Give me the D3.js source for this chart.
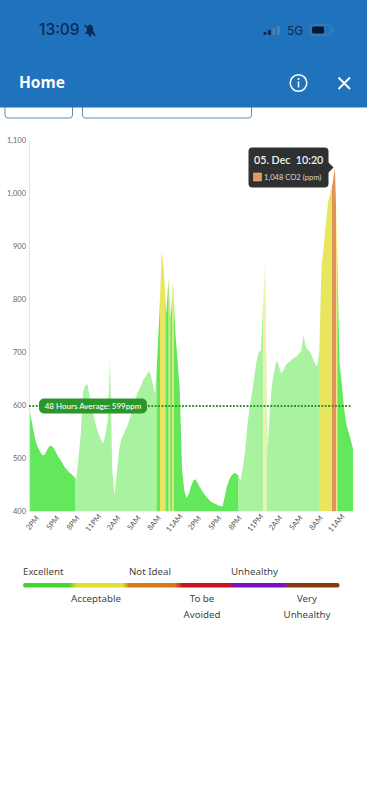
<!DOCTYPE html>
<html><head><meta charset="utf-8">
<script src="https://cdn.jsdelivr.net/npm/d3@7/dist/d3.min.js"></script>
<style>html,body{margin:0;padding:0;background:#fff;overflow:hidden}svg{display:block}text{font-family:Lato,"Open Sans",sans-serif}</style>
</head><body><svg id="c" width="367" height="800"></svg>
<script>
// CO2 readings, one every 20 minutes across 48 hours
const co2 = [597,575,552,532,520,512,506,507,516,523,524,519,511,503,497,490,483,478,473,470,465,462,
500,545,625,638,640,615,592,575,558,545,535,528,545,572,685,480,431,470,515,535,545,555,565,578,590,605,622,630,640,650,655,664,660,640,622,
690,775,892,850,772,838,765,835,740,685,630,480,440,425,433,447,458,461,453,445,438,432,427,422,418,416,414,412,410,410,428,448,460,468,472,472,468,
458,482,512,560,595,620,650,680,700,703,790,869,510,590,640,665,685,675,660,665,675,680,682,688,690,692,698,702,733,710,705,700,690,680,673,
700,860,900,945,985,1000,1020,1048,890,680,640,595,565,550,535,518];
const stepHours = 1/3;
// Colour zones along the time axis (start hour of each zone)
const zoneStarts = [0,6.89,18.89,19.41,20.22,20.7,20.93,21.22,21.45,31.04,34.67,35.19,42.96,44.89,45.48,45.67];
const zoneEnd = 48;
const zoneColors = ["#63e85c","#a9f3a0","#63e85c","#e8e65e","#63e85c","#e8e65e","#63e85c","#e8e65e","#63e85c","#a9f3a0","#f3f0a6","#a9f3a0","#e8e65e","#e2935a","#efe98a","#63e85c"];
const xTickHours = [0,3,6,9,12,15,18,21,24,27,30,33,36,39,42,45];
const xTickLabels = ["2PM","5PM","8PM","11PM","2AM","5AM","8AM","11AM","2PM","5PM","8PM","11PM","2AM","5AM","8AM","11AM"];
const yTicks = [400,500,600,700,800,900,1000,1100];
const average = 599;
const legendTop = [["Excellent",23,575,"start"],["Not Ideal",129,575,"start"],["Unhealthy",231,575,"start"]];
const legendBottom = [["Acceptable",96,602],["To be",202,602],["Avoided",202,618],["Very",307,602],["Unhealthy",307,618]];
const legendStops = [[0,"#3ed62e"],[.145,"#45d82e"],[.17,"#dfe02f"],[.315,"#dfe02f"],[.335,"#d9791c"],[.48,"#d9761a"],[.505,"#cc1221"],[.65,"#cc1221"],[.67,"#7c10c8"],[.82,"#7c10c8"],[.845,"#8b3a10"],[1,"#8b3a10"]];

const svg = d3.select("#c");
const x = d3.scaleLinear().domain([0,48]).range([29,353]);
const y = d3.scaleLinear().domain([400,1100]).range([511.5,140]);
const defs = svg.append("defs");

// cut-off buttons behind the header
svg.selectAll("rect.btn").data([[5,67.5],[82.5,169]]).join("rect")
  .attr("x",d=>d[0]).attr("y",90).attr("width",d=>d[1]).attr("height",28).attr("rx",3)
  .attr("fill","#fff").attr("stroke","#5f8fb5").attr("stroke-width",1);
svg.append("rect").attr("width",367).attr("height",107.5).attr("fill","#1f73bc");

// status bar
svg.append("text").attr("x",39).attr("y",35).attr("font-size",15.5).attr("font-weight",500).attr("fill","#0c2a55").attr("style","font-family:Inter").text("13:09");
const bell = svg.append("g").attr("transform","translate(90,30)").attr("fill","#0c2a55");
bell.append("path").attr("d","M-5,4 Q-3,2 -3,-1 Q-3,-5 0,-5.5 Q3,-5 3,-1 Q3,2 5,4 Z");
bell.append("circle").attr("cy",5).attr("r",1.5);
bell.append("line").attr("x1",-5.5).attr("y1",-5).attr("x2",5.5).attr("y2",6).attr("stroke","#0c2a55").attr("stroke-width",1.3);
svg.selectAll("rect.sig").data([[263.5,3,"#0c2a55"],[268,5,"#0c2a55"],[272.5,7,"#4d80ae"],[277,9,"#4d80ae"]]).join("rect")
  .attr("x",d=>d[0]).attr("y",d=>35-d[1]).attr("width",3).attr("height",d=>d[1]).attr("rx",.6).attr("fill",d=>d[2]);
svg.append("text").attr("x",287).attr("y",35).attr("font-size",12).attr("fill","#0c2a55").attr("style","font-family:Inter").text("5G");
svg.append("rect").attr("x",310.5).attr("y",25).attr("width",21).attr("height",10).attr("rx",3).attr("fill","none").attr("stroke","#4d80ae");
svg.append("rect").attr("x",312).attr("y",26.5).attr("width",12).attr("height",7).attr("rx",1.8).attr("fill","#07172e");
svg.append("rect").attr("x",332.5).attr("y",28.5).attr("width",1.2).attr("height",3).attr("fill","#4d80ae");

// title bar
svg.append("text").attr("x",19).attr("y",88).attr("font-size",15.5).attr("font-weight",700).attr("fill","#fff").attr("style","font-family:'Open Sans'").text("Home");
svg.append("circle").attr("cx",298.5).attr("cy",83).attr("r",8.3).attr("fill","none").attr("stroke","#fff").attr("stroke-width",1.5);
svg.append("circle").attr("cx",298.5).attr("cy",79).attr("r",1).attr("fill","#fff");
svg.append("line").attr("x1",298.5).attr("x2",298.5).attr("y1",81.5).attr("y2",87.5).attr("stroke","#fff").attr("stroke-width",1.5);
svg.append("path").attr("d","M338.5,77.5 L350,89 M350,77.5 L338.5,89").attr("stroke","#fff").attr("stroke-width",1.8).attr("fill","none");

// plot area clipped to the data silhouette
const area = d3.area().x((d,i)=>x(i*stepHours)).y0(y(400)).y1(d=>y(d));
defs.append("clipPath").attr("id","sil").append("path").attr("d",area(co2));
const zones = zoneStarts.map((s,i)=>({s,e:i+1<zoneStarts.length?zoneStarts[i+1]:zoneEnd,c:zoneColors[i]}));
svg.append("g").attr("clip-path","url(#sil)").selectAll("rect").data(zones).join("rect")
  .attr("x",d=>x(d.s)).attr("width",d=>x(d.e)-x(d.s)).attr("y",y(1100)).attr("height",y(400)-y(1100)).attr("fill",d=>d.c);

// axes
const gy = svg.append("g").attr("transform",`translate(${x(0)},0)`).call(d3.axisLeft(y).tickValues(yTicks).tickSize(0).tickPadding(3).tickFormat(d3.format(",")));
gy.select(".domain").attr("stroke","#e4e4e4").attr("stroke-width",1.2);
gy.selectAll("text").attr("font-size",7.5).attr("fill","#666").style("font-family","Lato");
const gx = svg.append("g").attr("transform",`translate(0,${y(400)})`).call(d3.axisBottom(x).tickValues(xTickHours).tickSize(0).tickFormat((d,i)=>xTickLabels[i]));
gx.select(".domain").remove();
gx.selectAll("text").attr("font-size",7.5).attr("fill","#555").style("font-family","Lato")
  .attr("text-anchor","middle").attr("dy",0).attr("y",0).attr("transform","translate(5,13) rotate(-50)");

// average line + label
svg.append("line").attr("x1",x(0)).attr("x2",352).attr("y1",y(average)).attr("y2",y(average)).attr("stroke","#2b8f2b").attr("stroke-width",2).attr("stroke-dasharray","1.8 1.6");
svg.append("rect").attr("x",39).attr("y",398.5).attr("width",108).attr("height",15).attr("rx",5).attr("fill","#2c962c");
svg.append("text").attr("x",93).attr("y",409).attr("text-anchor","middle").attr("font-size",8).attr("font-weight",500).attr("fill","#fff").text("48 Hours Average: "+average+"ppm");

// tooltip
const tip = svg.append("g");
tip.append("rect").attr("x",248.5).attr("y",147.5).attr("width",80).attr("height",40).attr("rx",4).attr("fill","#2f3030");
tip.append("path").attr("d","M328,162 L333.5,167.5 L328,173 Z").attr("fill","#2f3030");
tip.append("text").attr("x",254).attr("y",163.5).attr("font-size",10.7).attr("font-weight",600).attr("fill","#f2f2f2").attr("xml:space","preserve").text("05. Dec  10:20");
tip.append("rect").attr("x",253.5).attr("y",173).attr("width",8).attr("height",8).attr("fill","#e5995c").attr("stroke","#c9c9c9").attr("stroke-width",.5);
tip.append("text").attr("x",264).attr("y",179.5).attr("font-size",7.6).attr("fill","#d8d8d8").text("1,048 CO2 (ppm)");

// legend
const lg = defs.append("linearGradient").attr("id","lg");
lg.selectAll("stop").data(legendStops).join("stop").attr("offset",d=>d[0]).attr("stop-color",d=>d[1]);
svg.append("rect").attr("x",23).attr("y",583).attr("width",316.5).attr("height",4.5).attr("rx",2).attr("fill","url(#lg)");
svg.selectAll("text.lt").data(legendTop).join("text").attr("x",d=>d[1]).attr("y",d=>d[2]).attr("font-size",9.7).attr("fill","#444").attr("style","font-family:'Noto Sans'").text(d=>d[0]);
svg.selectAll("text.lb").data(legendBottom).join("text").attr("x",d=>d[1]).attr("y",d=>d[2]).attr("text-anchor","middle").attr("font-size",9.7).attr("fill","#444").attr("style","font-family:'Noto Sans'").text(d=>d[0]);
</script></body></html>
